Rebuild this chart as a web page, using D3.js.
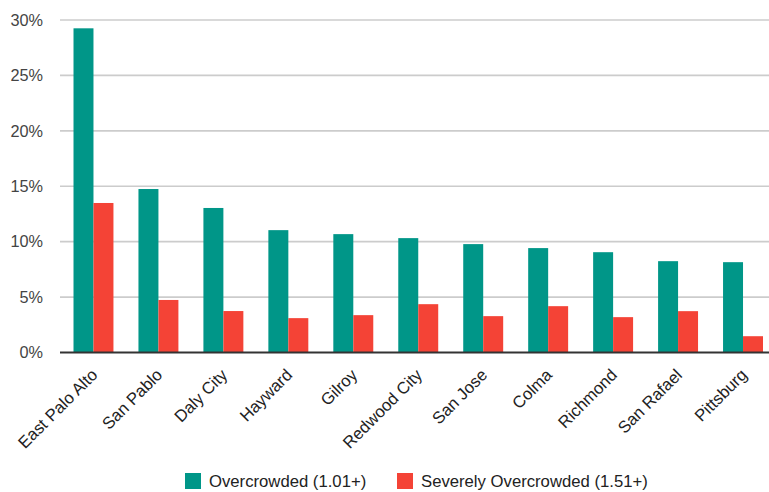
<!DOCTYPE html>
<html><head><meta charset="utf-8">
<script src="https://cdn.jsdelivr.net/npm/d3@7"></script>
<style>body{margin:0;background:#fff}svg{display:block;font-family:Arial,"Liberation Sans",sans-serif}</style>
</head><body><svg id="c" width="769" height="492"></svg>
<script>
const cities = ["East Palo Alto","San Pablo","Daly City","Hayward","Gilroy","Redwood City","San Jose","Colma","Richmond","San Rafael","Pittsburg"];
const overcrowded = [29.25,14.75,13.04,11.04,10.68,10.32,9.78,9.42,9.05,8.24,8.15];
const severe = [13.49,4.74,3.74,3.10,3.37,4.36,3.28,4.18,3.19,3.73,1.47];
const seriesNames = ["Overcrowded (1.01+)","Severely Overcrowded (1.51+)"];
const colors = ["#009688","#F44336"];
const yTicks = [0,5,10,15,20,25,30];

const svg = d3.select("#c");
const y = d3.scaleLinear().domain([0,30]).range([352.5,20]);
const x = d3.scaleBand().domain(cities).range([61,775.5]).paddingInner(0.385).paddingOuter(0.1925);
const xs = d3.scaleBand().domain([0,1]).range([0,x.bandwidth()]);

// gridlines
svg.append("g").selectAll("line").data(yTicks.filter(d=>d>0)).join("line")
  .attr("x1",60).attr("x2",769).attr("y1",d=>y(d)).attr("y2",d=>y(d))
  .attr("stroke","#cccccc").attr("stroke-width",1.6);

// y labels
svg.append("g").selectAll("text").data(yTicks).join("text")
  .attr("x",43).attr("y",d=>y(d)).attr("dy","0.35em").attr("text-anchor","end")
  .attr("font-size",16.3).attr("fill","#444").text(d=>d+"%");

// bars
const data = cities.map((c,i)=>({c, v:[overcrowded[i],severe[i]]}));
const g = svg.append("g").selectAll("g").data(data).join("g").attr("transform",d=>`translate(${x(d.c)},0)`);
g.selectAll("rect").data(d=>d.v.map((v,k)=>({v,k}))).join("rect")
  .attr("x",d=>xs(d.k)).attr("width",xs.bandwidth())
  .attr("y",d=>y(d.v)).attr("height",d=>y(0)-y(d.v))
  .attr("fill",d=>colors[d.k]);

// baseline
svg.append("line").attr("x1",60).attr("x2",769).attr("y1",y(0)).attr("y2",y(0))
  .attr("stroke","#333").attr("stroke-width",2);

// x labels
svg.append("g").selectAll("text").data(cities).join("text")
  .attr("transform",d=>`translate(${x(d)+x.bandwidth()/2+5},${376}) rotate(-45)`)
  .attr("text-anchor","end").attr("font-size",16.7).attr("fill","#222").text(d=>d);

// legend
const leg = [{x:185,t:seriesNames[0],c:colors[0]},{x:397,t:seriesNames[1],c:colors[1]}];
const lg = svg.append("g").selectAll("g").data(leg).join("g");
lg.append("rect").attr("x",d=>d.x).attr("y",473).attr("width",16).attr("height",16).attr("fill",d=>d.c);
lg.append("text").attr("x",d=>d.x+24).attr("y",487).attr("font-size",16.7).attr("fill","#222").text(d=>d.t);
</script></body></html>
